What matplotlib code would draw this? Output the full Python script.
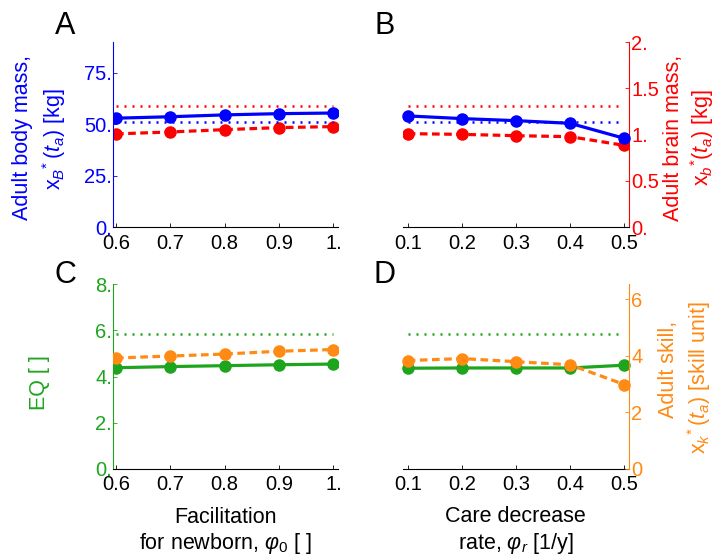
import matplotlib
matplotlib.use("Agg")
import matplotlib.pyplot as plt

plt.rcParams['font.family'] = ['Liberation Sans', 'DejaVu Sans']
plt.rcParams['mathtext.fontset'] = 'custom'
plt.rcParams['mathtext.rm'] = 'Liberation Sans'
plt.rcParams['mathtext.it'] = 'Liberation Sans:italic'
plt.rcParams['mathtext.bf'] = 'Liberation Sans:bold'

# ---- data ----
phi0 = [0.6, 0.7, 0.8, 0.9, 1.0]
phir = [0.1, 0.2, 0.3, 0.4, 0.5]

body_A = [53.0, 53.7, 54.6, 55.2, 55.5]
brain_A = [1.008, 1.029, 1.054, 1.076, 1.087]
body_B = [54.1, 52.8, 51.8, 50.5, 43.2]
brain_B = [1.011, 1.003, 0.989, 0.978, 0.884]

eq_C = [4.38, 4.43, 4.47, 4.51, 4.54]
skill_C = [3.92, 3.99, 4.06, 4.16, 4.22]
eq_D = [4.36, 4.37, 4.37, 4.37, 4.49]
skill_D = [3.83, 3.90, 3.79, 3.68, 2.98]

ref_body = 51.0
ref_brain = 1.314
ref_eq = 5.84

body_ticks = [0, 25, 50, 75]
body_ticklabels = ["0.", "25.", "50.", "75."]
brain_ticks = [0, 0.5, 1.0, 1.5, 2.0]
brain_ticklabels = ["0.", "0.5", "1.", "1.5", "2."]
eq_ticks = [0, 2, 4, 6, 8]
eq_ticklabels = ["0.", "2.", "4.", "6.", "8."]
skill_ticks = [0, 2, 4, 6]
skill_ticklabels = ["0", "2", "4", "6"]
phi0_ticklabels = ["0.6", "0.7", "0.8", "0.9", "1."]
phir_ticklabels = ["0.1", "0.2", "0.3", "0.4", "0.5"]

BLUE = "#0000ff"
RED = "#ff0000"
GREEN = "#1ea51e"
ORANGE = "#ff8a14"

W, H = 716, 556
fig = plt.figure(figsize=(W / 100, H / 100), dpi=100)

def fpos(l, t, r, b):
    return [l / W, 1 - b / H, (r - l) / W, (b - t) / H]

def ftext(x, y, s, **kw):
    return fig.text(x / W, 1 - y / H, s, **kw)

FS = 14.5
LFS = 15.5
lw = 2.3
ms = 8
dot = (0, (0.8, 2.4))
dash = (0, (2.4, 1.4))

def style_base(ax, xt, xtl, xlim):
    ax.set_xlim(*xlim)
    ax.set_xticks(xt)
    ax.set_xticklabels(xtl, fontsize=FS)
    for s in ['top', 'right', 'left']:
        ax.spines[s].set_visible(False)
    ax.spines['bottom'].set_linewidth(0.8)
    ax.tick_params(axis='x', direction='in', length=3, pad=4.5, width=0.6)
    ax.set_facecolor('none')

def left_axis(ax, color, ticks, labels, ylim):
    ax.set_ylim(*ylim)
    ax.set_yticks(ticks)
    ax.set_yticklabels(labels, fontsize=FS, color=color)
    ax.spines['left'].set_visible(True)
    ax.spines['left'].set_color(color)
    ax.spines['left'].set_linewidth(0.8)
    ax.tick_params(axis='y', direction='in', length=3, pad=1, colors=color, width=0.6)

def right_axis(ax, color, ticks, labels, ylim):
    ax.set_ylim(*ylim)
    ax.yaxis.tick_right()
    ax.set_yticks(ticks)
    ax.set_yticklabels(labels, fontsize=FS, color=color)
    ax.spines['right'].set_visible(True)
    ax.spines['right'].set_color(color)
    ax.spines['right'].set_linewidth(0.8)
    ax.tick_params(axis='y', direction='in', length=3, pad=2, colors=color, width=0.6)

def no_y(ax):
    ax.set_yticks([])
    for s in ['top', 'right', 'left', 'bottom']:
        ax.spines[s].set_visible(False)
    ax.set_facecolor('none')

xlimA = (0.595, 1.009)
xlimB = (0.0913, 0.508)
ylim_body = (0, 90)
ylim_brain = (0, 2.0)
ylim_eq = (0, 8)
ylim_skill = (0, 6.53)

# ---------- Panel A ----------
axA = fig.add_axes(fpos(113.3, 42, 338.3, 227.3))
style_base(axA, phi0, phi0_ticklabels, xlimA)
left_axis(axA, BLUE, body_ticks, body_ticklabels, ylim_body)
axA2 = axA.twinx()
axA2.set_xlim(*xlimA)
axA2.set_ylim(*ylim_brain)
no_y(axA2)
axA2.plot([phi0[0], phi0[-1]], [ref_brain, ref_brain], color=RED, lw=1.8, ls=dot)
axA2.plot(phi0, brain_A, color=RED, lw=lw, ls=dash, marker='o', ms=ms)
axA.plot([phi0[0], phi0[-1]], [ref_body, ref_body], color=BLUE, lw=1.8, ls=dot)
axA.plot(phi0, body_A, color=BLUE, lw=lw, marker='o', ms=ms, zorder=5)
axA.set_zorder(axA2.get_zorder() + 1)
ftext(23, 137.5, "Adult body mass,", fontsize=LFS, color=BLUE, rotation=90,
      ha='center', va='center')
ftext(54, 139, r"$\mathrm{x}_{B}{}^{*}\,(t_{a})$ [kg]", fontsize=LFS, color=BLUE,
      rotation=90, ha='center', va='center')

# ---------- Panel B ----------
axB = fig.add_axes(fpos(403, 42, 628.7, 227.3))
style_base(axB, phir, phir_ticklabels, xlimB)
axB.set_ylim(*ylim_body)
axB.set_yticks([])
axB2 = axB.twinx()
axB2.set_xlim(*xlimB)
for s in ['top', 'left', 'bottom']:
    axB2.spines[s].set_visible(False)
right_axis(axB2, RED, brain_ticks, brain_ticklabels, ylim_brain)
axB2.plot([phir[0], phir[-1]], [ref_brain, ref_brain], color=RED, lw=1.8, ls=dot)
axB2.plot(phir, brain_B, color=RED, lw=lw, ls=dash, marker='o', ms=ms)
axB.plot([phir[0], phir[-1]], [ref_body, ref_body], color=BLUE, lw=1.8, ls=dot)
axB.plot(phir, body_B, color=BLUE, lw=lw, marker='o', ms=ms, zorder=5, clip_on=False)
axB.set_zorder(axB2.get_zorder() + 1)
ftext(673.5, 138, "Adult brain mass,", fontsize=LFS, color=RED, rotation=90,
      ha='center', va='center')
ftext(702.5, 137.5, r"$\mathrm{x}_{b}{}^{*}(t_{a})$ [kg]", fontsize=LFS, color=RED,
      rotation=90, ha='center', va='center')

# ---------- Panel C ----------
axC = fig.add_axes(fpos(113.3, 284.3, 338.3, 468.7))
style_base(axC, phi0, phi0_ticklabels, xlimA)
left_axis(axC, GREEN, eq_ticks, eq_ticklabels, ylim_eq)
axC2 = axC.twinx()
axC2.set_xlim(*xlimA)
axC2.set_ylim(*ylim_skill)
no_y(axC2)
axC2.plot(phi0, skill_C, color=ORANGE, lw=lw, ls=dash, marker='o', ms=ms)
axC.plot([phi0[0], phi0[-1]], [ref_eq, ref_eq], color=GREEN, lw=1.8, ls=dot)
axC.plot(phi0, eq_C, color=GREEN, lw=lw, marker='o', ms=ms)
ftext(39, 383, "EQ [ ]", fontsize=LFS, color=GREEN, rotation=90,
      ha='center', va='center')
ftext(225.8, 523, "Facilitation", fontsize=LFS, ha='center', va='baseline')
ftext(225.8, 549, r"for newborn, $\varphi_{0}$ [ ]", fontsize=LFS, ha='center',
      va='baseline')

# ---------- Panel D ----------
axD = fig.add_axes(fpos(403, 284.3, 628.7, 468.7))
style_base(axD, phir, phir_ticklabels, xlimB)
axD.set_ylim(*ylim_eq)
axD.set_yticks([])
axD2 = axD.twinx()
axD2.set_xlim(*xlimB)
for s in ['top', 'left', 'bottom']:
    axD2.spines[s].set_visible(False)
right_axis(axD2, ORANGE, skill_ticks, skill_ticklabels, ylim_skill)
axD.plot([phir[0], phir[-1]], [ref_eq, ref_eq], color=GREEN, lw=1.8, ls=dot)
axD.plot(phir, eq_D, color=GREEN, lw=lw, marker='o', ms=ms, clip_on=False)
axD2.plot(phir, skill_D, color=ORANGE, lw=lw, ls=dash, marker='o', ms=ms, clip_on=False)
axD2.set_zorder(axD.get_zorder() + 1)
ftext(668.5, 369, "Adult skill,", fontsize=LFS, color=ORANGE, rotation=90,
      ha='center', va='center')
ftext(699, 378, r"$\mathrm{x}_{k}{}^{*}\,(t_{a})$ [skill unit]", fontsize=LFS,
      color=ORANGE, rotation=90, ha='center', va='center')
ftext(515.8, 522, "Care decrease", fontsize=LFS, ha='center', va='baseline')
ftext(515.8, 549, r"rate, $\varphi_{r}$ [1/y]", fontsize=LFS, ha='center',
      va='baseline')

# Panel letters
for lab, x, y in [("A", 65, 26), ("B", 385, 26), ("C", 65, 275), ("D", 385, 275)]:
    ftext(x, y, lab, fontsize=22, ha='center', va='center')

fig.savefig("out.png", dpi=100)
